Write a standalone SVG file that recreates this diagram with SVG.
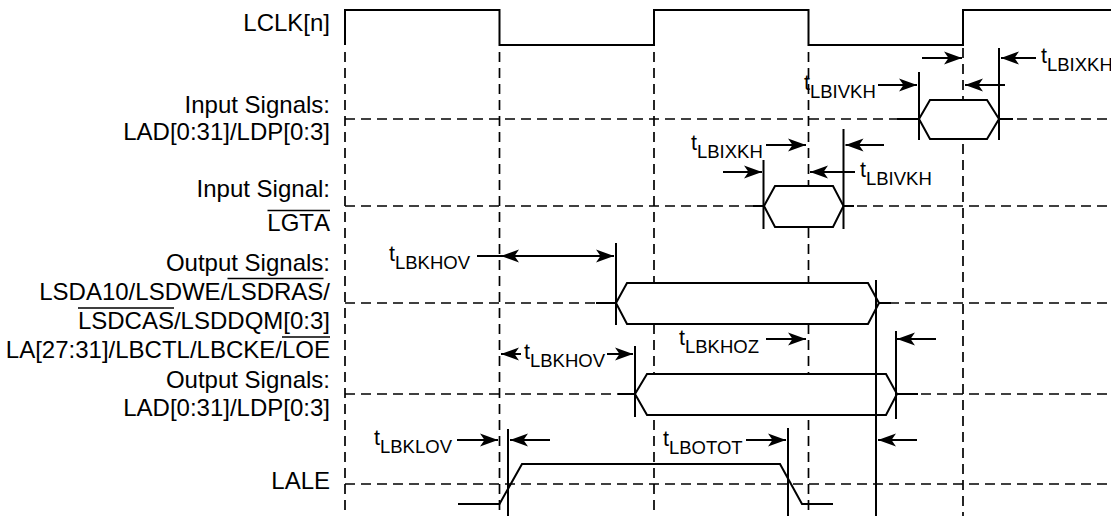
<svg xmlns="http://www.w3.org/2000/svg" width="1111" height="516" viewBox="0 0 1111 516">
<style>
  .lbl { font-family: "Liberation Sans", Arial, sans-serif; font-size: 24px; fill: #000; text-anchor: end; font-kerning: none; }
  .tl { font-family: "Liberation Sans", Arial, sans-serif; font-size: 21.5px; fill: #000; }
  .sub { font-size: 18.5px; }
  .ovl { stroke: #000; stroke-width: 1.6; fill: none; }
  .grid { stroke: #000; stroke-width: 1.7; stroke-dasharray: 10 6; fill: none; }
  .sig { stroke: #000; stroke-width: 2; fill: none; }
  .hex { stroke: #000; stroke-width: 2; fill: #fff; stroke-linejoin: miter; }
  .ref { stroke: #000; stroke-width: 2; fill: none; }
  .arr { stroke: #000; stroke-width: 2; fill: none; marker-end: url(#ah); }
</style>
<defs>
  <marker id="ah" viewBox="-20 -8 22 16" refX="0" refY="0" markerWidth="22" markerHeight="16" orient="auto" markerUnits="userSpaceOnUse">
    <path d="M0,0 L-18,-6.5 L-13.5,0 L-18,6.5 Z" fill="#000"/>
  </marker>
</defs>
<rect width="1111" height="516" fill="#fff"/>

<g id="grid">
  <path class="grid" d="M345,52 V516 M499.5,52 V516 M654,52 V516 M808.5,52 V516 M963,48 V516"/>
  <path class="grid" d="M345,119 H1111 M345,206 H1111 M345,303 H1111 M345,394 H1111 M345,484 H1111"/>
</g>

<g id="labels">
  <text class="lbl" x="330" y="31">LCLK[n]</text>
  <text class="lbl" x="330" y="113">Input Signals:</text>
  <text class="lbl" x="330" y="140">LAD[0:31]/LDP[0:3]</text>
  <text class="lbl" x="330" y="197">Input Signal:</text>
  <text class="lbl" x="330" y="231">LGTA</text>
  <text class="lbl" x="330" y="271">Output Signals:</text>
  <text class="lbl" x="330" y="300">LSDA10/LSDWE/LSDRAS/</text>
  <text class="lbl" x="330" y="329">LSDCAS/LSDDQM[0:3]</text>
  <text class="lbl" x="330" y="358">LA[27:31]/LBCTL/LBCKE/LOE</text>
  <text class="lbl" x="330" y="388">Output Signals:</text>
  <text class="lbl" x="330" y="416">LAD[0:31]/LDP[0:3]</text>
  <text class="lbl" x="330" y="489">LALE</text>
  <path class="ovl" d="M267.5,210.5 H330 M227.5,278.5 H323.5 M78,308 H174 M282,337 H330"/>
</g>

<g id="lclk">
  <path class="sig" d="M345,45 V10 H499.5 V45 H654 V10 H808.5 V45 H963 V10 H1111"/>
</g>

<g id="input-lad">
  <path class="sig" d="M897,119 H919 M999,119 H1013"/>
  <polygon class="hex" points="919,119 930,100 987,100 999,119 987,139 930,139"/>
</g>

<g id="input-lgta">
  <path class="sig" d="M753,206 H764 M843.5,206 H854"/>
  <polygon class="hex" points="764,206 775,186 833,186 843.5,206 833,227 775,227"/>
</g>

<g id="output-lsd">
  <path class="sig" d="M596,303 H616 M879,303 H891"/>
  <polygon class="hex" points="616,303 627,283 868,283 879,303 868,324 627,324"/>
</g>

<g id="output-lad">
  <path class="sig" d="M618,394 H635 M897,394 H918"/>
  <polygon class="hex" points="635,394 647,374 886,374 897,394 886,415 647,415"/>
</g>

<g id="lale">
  <path class="sig" d="M458,504 H499.5 L522,464 H780 L802,504 H833"/>
</g>

<g id="connectors">
  <path class="ref" d="M919,72 V140 M999,48 V140"/>
  <path class="ref" d="M763.5,160 V229 M843.5,129 V229"/>
  <path class="ref" d="M616,243 V325 M876,280 V516"/>
  <path class="ref" d="M635,346 V417 M896,331 V419"/>
  <path class="ref" d="M508,429 V516 M788,428 V516"/>

  <path class="arr" d="M922,58 H962"/>
  <path class="arr" d="M1036,58 H1001"/>
  <path class="arr" d="M878,85 H917"/>
  <path class="arr" d="M1005,85 H965"/>

  <path class="arr" d="M766,145 H806"/>
  <path class="arr" d="M884,145 H845.5"/>
  <path class="arr" d="M723,172 H762"/>
  <path class="arr" d="M855,172 H810"/>

  <path class="arr" d="M477,256 H614"/>
  <path class="arr" d="M520,256 H501"/>
  <path class="arr" d="M766,339 H806"/>
  <path class="arr" d="M936,339 H897"/>

  <path class="arr" d="M521,354 H501"/>
  <path class="arr" d="M607,354 H633"/>

  <path class="arr" d="M457,440 H498"/>
  <path class="arr" d="M550,440 H510"/>
  <path class="arr" d="M746,440 H786"/>
  <path class="arr" d="M917,440 H878"/>
</g>

<g id="timing-labels">
  <text class="tl" x="1041" y="63">t<tspan class="sub" dy="7.5">LBIXKH</tspan></text>
  <text class="tl" x="804" y="90">t<tspan class="sub" dy="7.5">LBIVKH</tspan></text>
  <text class="tl" x="691" y="150">t<tspan class="sub" dy="7.5">LBIXKH</tspan></text>
  <text class="tl" x="860" y="177">t<tspan class="sub" dy="7.5">LBIVKH</tspan></text>
  <text class="tl" x="389" y="261">t<tspan class="sub" dy="7.5">LBKHOV</tspan></text>
  <text class="tl" x="679" y="345">t<tspan class="sub" dy="7.5">LBKHOZ</tspan></text>
  <text class="tl" x="524" y="359">t<tspan class="sub" dy="7.5">LBKHOV</tspan></text>
  <text class="tl" x="374" y="445">t<tspan class="sub" dy="7.5">LBKLOV</tspan></text>
  <text class="tl" x="663" y="446">t<tspan class="sub" dy="7.5">LBOTOT</tspan></text>
</g>
</svg>
